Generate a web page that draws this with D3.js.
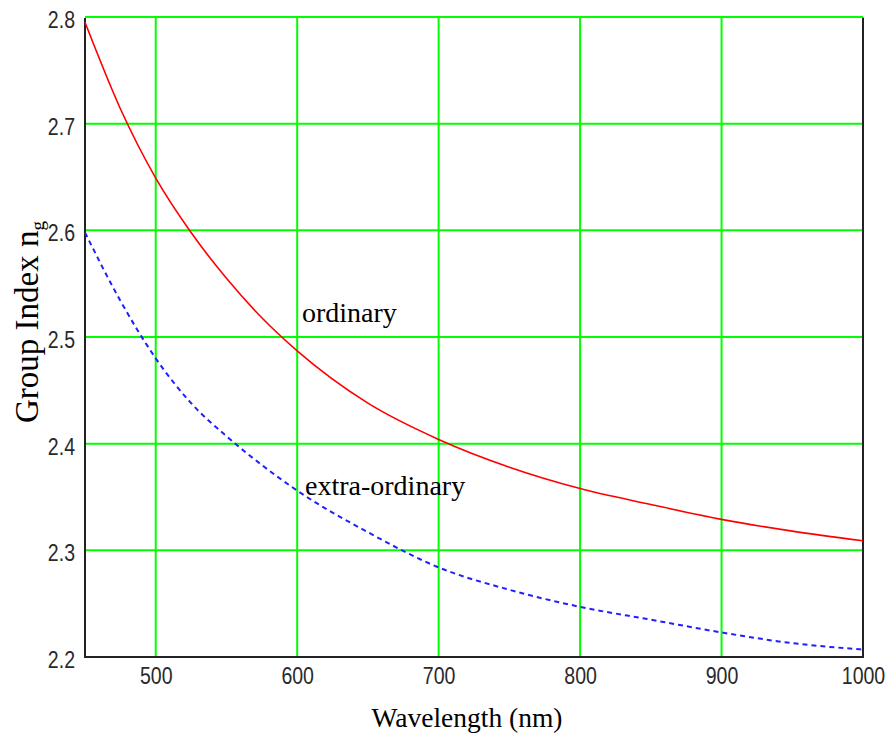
<!DOCTYPE html>
<html>
<head>
<meta charset="utf-8">
<title>Group Index</title>
<script src="https://cdn.jsdelivr.net/npm/d3@7"></script>
<style>
  body { margin: 0; background: #fff; }
  .tick text { font-family: "Liberation Sans", Arial, sans-serif; font-size: 23px; fill: #2a2a2a; }
  .lbl { font-family: "Liberation Serif", "Times New Roman", serif; fill: #000; }
</style>
</head>
<body>
<script>
// values
let wavelengths = [450, 475, 500, 525, 550, 575, 600, 650, 700, 750, 800, 850, 900, 950, 1000]
let ordinary    = [2.795, 2.714, 2.649, 2.598, 2.555, 2.518, 2.487, 2.438, 2.404, 2.378, 2.358, 2.343, 2.329, 2.318, 2.309]
let extraOrd    = [2.598, 2.534, 2.480, 2.438, 2.407, 2.380, 2.356, 2.317, 2.284, 2.263, 2.247, 2.235, 2.223, 2.213, 2.207]
let xTicks = [500, 600, 700, 800, 900, 1000]
let yTicks = [2.2, 2.3, 2.4, 2.5, 2.6, 2.7, 2.8]

let width = 892,
    height = 736,
    plotL = 85, plotR = 863,
    plotT = 17, plotB = 657

let svg = d3.select('body').append('svg')
    .attr('width', width)
    .attr('height', height)

let x = d3.scaleLinear().domain([450, 1000]).range([plotL, plotR])
let y = d3.scaleLinear().domain([2.2, 2.8]).range([plotB, plotT])

// grid
svg.append('g').selectAll('line')
    .data(xTicks).enter().append('line')
    .attr('x1', d => x(d)).attr('x2', d => x(d))
    .attr('y1', plotT).attr('y2', plotB)
    .attr('stroke', '#00ff00').attr('stroke-width', 2)

svg.append('g').selectAll('line')
    .data(yTicks).enter().append('line')
    .attr('x1', plotL).attr('x2', plotR)
    .attr('y1', d => y(d)).attr('y2', d => y(d))
    .attr('stroke', '#00ff00').attr('stroke-width', 2)

// frame (top edge left to the green grid line)
svg.append('path')
    .attr('d', `M${plotL},${plotT + 1}V${plotB}H${plotR}V${plotT + 1}`)
    .attr('fill', 'none').attr('stroke', '#222').attr('stroke-width', 2)

// axes, labels only -- narrow the digits like the original screen font
let xAxis = svg.append('g')
    .attr('transform', `translate(0,${plotB})`)
    .call(d3.axisBottom(x).tickValues(xTicks).tickSize(0).tickPadding(11).tickFormat(d3.format('d')))
xAxis.select('.domain').remove()
xAxis.selectAll('.tick text').attr('transform', 'scale(0.85,1)')

let yAxis = svg.append('g')
    .attr('transform', `translate(${plotL},0)`)
    .call(d3.axisLeft(y).tickValues(yTicks).tickSize(0).tickFormat(d3.format('.1f')))
yAxis.select('.domain').remove()
yAxis.selectAll('.tick text')
    .attr('x', -10 / 0.85)
    .attr('dy', '0.46em')
    .attr('transform', 'scale(0.85,1)')

// curves
let line = vals => d3.line()
    .x((d, i) => x(wavelengths[i]))
    .y(d => y(d))
    .curve(d3.curveMonotoneX)(vals)

svg.append('path')
    .attr('d', line(ordinary))
    .attr('fill', 'none').attr('stroke', '#ff0000').attr('stroke-width', 1.6)

svg.append('path')
    .attr('d', line(extraOrd))
    .attr('fill', 'none').attr('stroke', '#2020ff').attr('stroke-width', 2)
    .attr('stroke-dasharray', '5,4')

// annotations
svg.append('text').attr('class', 'lbl')
    .attr('x', 302).attr('y', 322).style('font-size', '28px')
    .text('ordinary')

svg.append('text').attr('class', 'lbl')
    .attr('x', 305).attr('y', 495).style('font-size', '28px')
    .text('extra-ordinary')

svg.append('text').attr('class', 'lbl')
    .attr('x', 467).attr('y', 727).attr('text-anchor', 'middle').style('font-size', '27.5px')
    .text('Wavelength (nm)')

let yl = svg.append('text').attr('class', 'lbl')
    .attr('transform', 'translate(38,322) rotate(-90)')
    .attr('text-anchor', 'middle').style('font-size', '33px')
yl.append('tspan').text('Group Index n')
yl.append('tspan').attr('dy', 6).style('font-size', '19px').text('g')
</script>
</body>
</html>
